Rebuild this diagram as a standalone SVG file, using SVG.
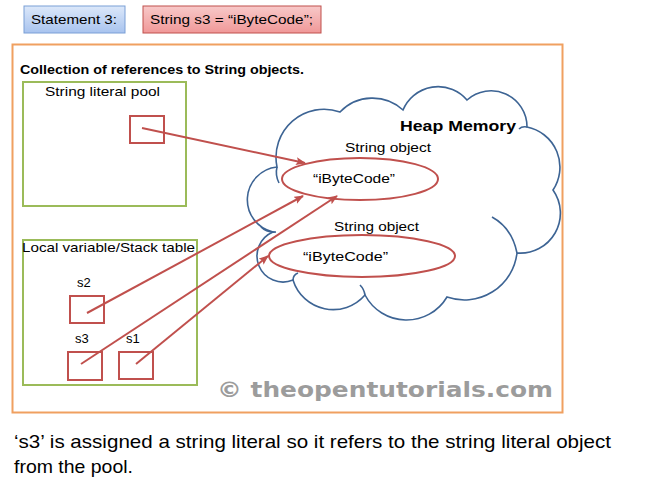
<svg xmlns="http://www.w3.org/2000/svg" width="646" height="486" viewBox="0 0 646 486">
<defs>
<linearGradient id="gb" x1="0" y1="0" x2="0" y2="1"><stop offset="0" stop-color="#dce8fa"/><stop offset="1" stop-color="#a8c3ee"/></linearGradient>
<linearGradient id="gr" x1="0" y1="0" x2="0" y2="1"><stop offset="0" stop-color="#f8c9c9"/><stop offset="1" stop-color="#f09898"/></linearGradient>
<marker id="ah" markerWidth="10" markerHeight="8" refX="9" refY="4" orient="auto" markerUnits="userSpaceOnUse"><path d="M0,0 L10,4 L0,8 L2,4 Z" fill="#c0504d"/></marker>
</defs>
<style>
text{font-family:"Liberation Sans",Arial,sans-serif;fill:#000}
.t{font-size:13px}
.b{font-weight:bold}
.grn{fill:none;stroke:#9bbb59;stroke-width:2}
.sq{fill:none;stroke:#c0504d;stroke-width:2}
.el{fill:none;stroke:#c0504d;stroke-width:2}
.ar{stroke:#c0504d;stroke-width:2;fill:none;marker-end:url(#ah)}
.cl{fill:#fff;stroke:#3d6494;stroke-width:1.6}
.clh{fill:none;stroke:#3d6494;stroke-width:1.6}
</style>
<rect width="646" height="486" fill="#fff"/>
<g id="statement">
<rect x="24" y="6" width="101" height="27" fill="url(#gb)" stroke="#7a9fd6" stroke-width="1"/>
<text x="31" y="24" class="t" textLength="86" lengthAdjust="spacingAndGlyphs">Statement 3:</text>
</g>
<g id="code">
<rect x="143" y="6" width="178" height="27" fill="url(#gr)" stroke="#c0504d" stroke-width="1"/>
<text x="150" y="24" class="t" textLength="163" lengthAdjust="spacingAndGlyphs">String s3 = “iByteCode”;</text>
</g>
<g id="collection">
<rect x="12.5" y="44.5" width="550" height="368" fill="none" stroke="#f0a060" stroke-width="2"/>
<text x="20" y="74" class="t b" textLength="284" lengthAdjust="spacingAndGlyphs">Collection of references to String objects.</text>
</g>
<g id="heap">
<path class="cl" d="M277,167 A33,33 0 0 0 273,232 A26,26 0 0 0 293,280 A42,42 0 0 0 365,295 A47,47 0 0 0 447,297 A53,53 0 0 0 517,253 A40,40 0 0 0 553,190 A41,41 0 0 0 527,127 A36,36 0 0 0 467,100 A38,38 0 0 0 403,110 A45,45 0 0 0 340,112 A48,48 0 0 0 277,167 Z"/>
<path class="clh" d="M277,167 Q275,175 279,183"/>
<path class="clh" d="M261,227 Q267,233 276,232"/>
<path class="clh" d="M293,280 Q293,275 298,273"/>
<path class="clh" d="M365,295 Q364,289 360,285"/>
<path class="clh" d="M492,217 Q512,228 517,253"/>
<path class="clh" d="M527,127 Q522,126 519,129"/>
<text x="400" y="131" class="b" font-size="15" textLength="116" lengthAdjust="spacingAndGlyphs">Heap Memory</text>
</g>
<g id="obj1">
<text x="345" y="152" class="t" textLength="86" lengthAdjust="spacingAndGlyphs">String object</text>
<ellipse class="el" cx="360" cy="179" rx="78" ry="21"/>
<text x="313" y="183" class="t" textLength="82" lengthAdjust="spacingAndGlyphs">“iByteCode”</text>
</g>
<g id="obj2">
<text x="334" y="231" class="t" textLength="85" lengthAdjust="spacingAndGlyphs">String object</text>
<ellipse class="el" cx="362" cy="256" rx="93" ry="21"/>
<text x="303" y="261" class="t" textLength="85" lengthAdjust="spacingAndGlyphs">“iByteCode”</text>
</g>
<g id="pool">
<rect class="grn" x="23" y="82" width="163" height="124"/>
<text x="45" y="96" class="t" textLength="115" lengthAdjust="spacingAndGlyphs">String literal pool</text>
<rect class="sq" x="130" y="116" width="34" height="27"/>
</g>
<g id="stack">
<rect class="grn" x="23" y="240" width="174" height="145"/>
<text x="22" y="252" class="t" textLength="173" lengthAdjust="spacingAndGlyphs">Local variable/Stack table</text>
</g>
<g id="s2">
<text x="77" y="287" class="t">s2</text>
<rect class="sq" x="70" y="296" width="34" height="27"/>
</g>
<g id="s3">
<text x="75" y="343" class="t">s3</text>
<rect class="sq" x="68" y="352" width="34" height="28"/>
</g>
<g id="s1">
<text x="126" y="343" class="t">s1</text>
<rect class="sq" x="119" y="352" width="34" height="27"/>
</g>
<g id="connectors">
<line class="ar" x1="142" y1="128" x2="305" y2="163"/>
<line class="ar" x1="87" y1="313" x2="303" y2="196"/>
<line class="ar" x1="81" y1="364" x2="337" y2="196"/>
<line class="ar" x1="136" y1="364" x2="268" y2="256"/>
</g>
<text x="217" y="397" font-family="DejaVu Sans,sans-serif" font-weight="bold" font-size="22" fill="#9c9c9c" style="fill:#9c9c9c;font-family:'DejaVu Sans',sans-serif" textLength="336" lengthAdjust="spacingAndGlyphs">© theopentutorials.com</text>
<text x="14" y="448" font-size="19" textLength="597" lengthAdjust="spacingAndGlyphs">‘s3’ is assigned a string literal so it refers to the string literal object</text>
<text x="14" y="473" font-size="19" textLength="119" lengthAdjust="spacingAndGlyphs">from the pool.</text>
</svg>
